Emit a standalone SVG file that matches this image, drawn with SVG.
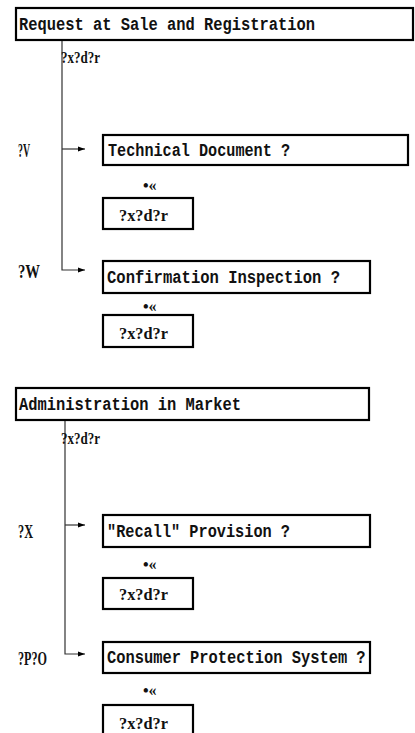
<svg xmlns="http://www.w3.org/2000/svg" width="415" height="733" viewBox="0 0 415 733">
<style>
.box{fill:#fff;stroke:#000;stroke-width:2.2}
.t{font-family:"Liberation Mono",monospace;font-size:19px;font-weight:bold;fill:#111}
.g{font-family:"Liberation Serif",serif;font-size:17px;font-weight:bold;fill:#111}
.l{font-family:"Liberation Serif",serif;font-size:18px;font-weight:bold;fill:#111}
.s{font-family:"Liberation Serif",serif;font-size:16px;font-weight:bold;fill:#111}
.c{fill:none;stroke:#333;stroke-width:1.2}
</style>
<defs>
<marker id="ah" viewBox="0 0 10 10" refX="10" refY="5" markerWidth="7" markerHeight="7" markerUnits="userSpaceOnUse" orient="auto">
<path d="M0,1.5 L10,5 L0,8.5 Z" fill="#000"/>
</marker>
</defs>
<rect width="415" height="733" fill="#fff"/>

<g id="connectors">
<path class="c" d="M62,36 V270 H85" marker-end="url(#ah)"/>
<path class="c" d="M62,149 H85" marker-end="url(#ah)"/>
<path class="c" d="M65,416 V654 H85" marker-end="url(#ah)"/>
<path class="c" d="M65,525 H85" marker-end="url(#ah)"/>
</g>

<g id="sale">
<rect class="box" x="16" y="8" width="397" height="32"/>
<text class="t" x="19" y="30" textLength="296" lengthAdjust="spacingAndGlyphs">Request at Sale and Registration</text>
<text class="g" x="61" y="63" textLength="39" lengthAdjust="spacingAndGlyphs">?x?d?r</text>
</g>

<g id="tech">
<text class="l" x="18" y="157" textLength="12" lengthAdjust="spacingAndGlyphs">?V</text>
<rect class="box" x="103" y="135" width="305" height="30"/>
<text class="t" x="108" y="156" textLength="182" lengthAdjust="spacingAndGlyphs">Technical Document ?</text>
<text class="s" x="143" y="191">•«</text>
</g>
<g id="tech-ans">
<rect class="box" x="103" y="198" width="90" height="31"/>
<text class="g" x="119" y="221" textLength="49" lengthAdjust="spacingAndGlyphs">?x?d?r</text>
</g>

<g id="confirm">
<text class="l" x="18" y="278" textLength="22" lengthAdjust="spacingAndGlyphs">?W</text>
<rect class="box" x="103" y="261" width="267" height="32"/>
<text class="t" x="107" y="283" textLength="233" lengthAdjust="spacingAndGlyphs">Confirmation Inspection ?</text>
<text class="s" x="143" y="312">•«</text>
</g>
<g id="confirm-ans">
<rect class="box" x="103" y="315" width="90" height="32"/>
<text class="g" x="119" y="339" textLength="49" lengthAdjust="spacingAndGlyphs">?x?d?r</text>
</g>

<g id="market">
<rect class="box" x="16" y="388" width="353" height="32"/>
<text class="t" x="19" y="410" textLength="222" lengthAdjust="spacingAndGlyphs">Administration in Market</text>
<text class="g" x="61" y="444" textLength="39" lengthAdjust="spacingAndGlyphs">?x?d?r</text>
</g>

<g id="recall">
<text class="l" x="18" y="538" textLength="15" lengthAdjust="spacingAndGlyphs">?X</text>
<rect class="box" x="103" y="515" width="267" height="32"/>
<text class="t" x="107" y="537" textLength="183" lengthAdjust="spacingAndGlyphs">"Recall" Provision ?</text>
<text class="s" x="143" y="570">•«</text>
</g>
<g id="recall-ans">
<rect class="box" x="103" y="578" width="90" height="31"/>
<text class="g" x="119" y="600" textLength="49" lengthAdjust="spacingAndGlyphs">?x?d?r</text>
</g>

<g id="consumer">
<text class="l" x="18" y="665" textLength="29" lengthAdjust="spacingAndGlyphs">?P?O</text>
<rect class="box" x="103" y="642" width="267" height="31"/>
<text class="t" transform="translate(107,663) scale(1,1.23)" x="0" y="0" style="font-size:15.4px">Consumer Protection System ?</text>
<text class="s" x="143" y="696">•«</text>
</g>
<g id="consumer-ans">
<rect class="box" x="103" y="705" width="90" height="34"/>
<text class="g" x="119" y="729" textLength="49" lengthAdjust="spacingAndGlyphs">?x?d?r</text>
</g>
</svg>
